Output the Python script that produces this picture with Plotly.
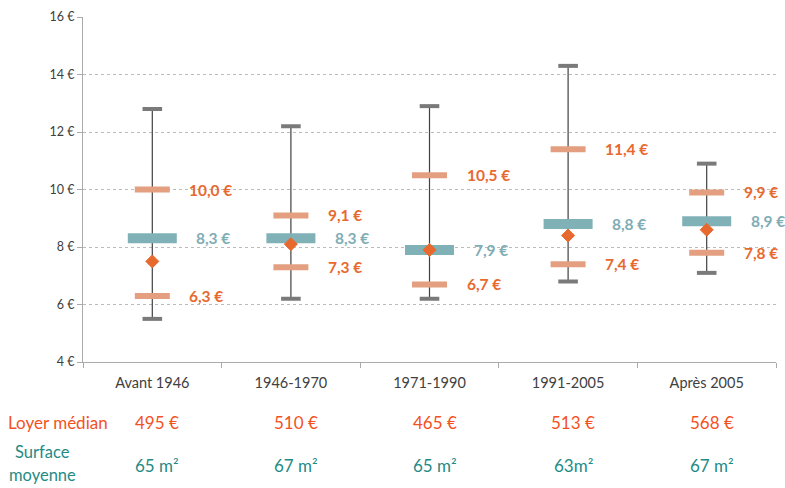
import plotly.graph_objects as go

categories = ["Avant 1946", "1946-1970", "1971-1990", "1991-2005", "Après 2005"]
mins = [5.5, 6.2, 6.2, 6.8, 7.1]
maxs = [12.8, 12.2, 12.9, 14.3, 10.9]
q1 = [6.3, 7.3, 6.7, 7.4, 7.8]
q3 = [10.0, 9.1, 10.5, 11.4, 9.9]
medians = [8.3, 8.3, 7.9, 8.8, 8.9]
means = [7.5, 8.1, 7.9, 8.4, 8.6]
loyer_median = ["495 €", "510 €", "465 €", "513 €", "568 €"]
surface_moyenne = ["65 m²", "67 m²", "65 m²", "63m²", "67 m²"]
y_ticks = [4, 6, 8, 10, 12, 14, 16]

FONT = "Lato"
ORANGE = "#E8692E"
SALMON = "#E39F80"
TEAL_BAR = "#7FB1B7"
TEAL_TXT = "#7FADB5"
RED_TXT = "#F4511E"
TEAL_DARK = "#1F8A86"

xs = list(range(len(categories)))

def fmt(v):
    return f"{v:.1f}".replace(".", ",") + " €"

fig = go.Figure()

# whiskers
wx, wy = [], []
for i in xs:
    wx += [i, i, None]
    wy += [mins[i], maxs[i], None]
fig.add_trace(go.Scatter(x=wx, y=wy, mode="lines", line=dict(color="#404040", width=1.2),
                         hoverinfo="skip", showlegend=False))

def hbar(yvals, size, width, color):
    fig.add_trace(go.Scatter(
        x=xs, y=yvals, mode="markers", showlegend=False,
        marker=dict(symbol="line-ew", size=size, color=color,
                    line=dict(color=color, width=width))))

hbar(mins, 14, 4, "#7A7A7A")
hbar(maxs, 14, 4, "#7A7A7A")
hbar(q1, 25, 6, SALMON)
hbar(q3, 25, 6, SALMON)
hbar(medians, 35, 10, TEAL_BAR)

fig.add_trace(go.Scatter(x=xs, y=means, mode="markers", showlegend=False,
                         marker=dict(symbol="diamond", size=10, color=ORANGE,
                                     line=dict(color=ORANGE, width=1))))

# value labels
for i in xs:
    for v in (q1[i], q3[i]):
        fig.add_annotation(x=i, y=v, text=fmt(v), showarrow=False, xanchor="left",
                           xshift=35, font=dict(family=FONT, size=15.5, color=ORANGE, weight="bold"))
    fig.add_annotation(x=i, y=medians[i], text=fmt(medians[i]), showarrow=False, xanchor="left",
                       xshift=42, font=dict(family=FONT, size=15.5, color=TEAL_TXT, weight="bold"))

# table below
H = 347.0
W = 693.0
def py(pix):
    return (362 - pix) / H

def px(pix):
    return (pix - 83) / W

fig.add_annotation(xref="paper", yref="paper", x=px(6), y=py(423), xanchor="left", yanchor="middle",
                   text="Loyer médian", showarrow=False,
                   font=dict(family=FONT, size=17, color=RED_TXT))
fig.add_annotation(xref="paper", yref="paper", x=px(42), y=py(453), xanchor="center", yanchor="middle",
                   text="Surface", showarrow=False,
                   font=dict(family=FONT, size=16.5, color=TEAL_DARK))
fig.add_annotation(xref="paper", yref="paper", x=px(42), y=py(476), xanchor="center", yanchor="middle",
                   text="moyenne", showarrow=False,
                   font=dict(family=FONT, size=16.5, color=TEAL_DARK))
for i in xs:
    fig.add_annotation(x=i, yref="paper", y=py(423), text=loyer_median[i], showarrow=False,
                       xanchor="center", yanchor="middle",
                       xshift=5, font=dict(family=FONT, size=17, color=RED_TXT))
    fig.add_annotation(x=i, yref="paper", y=py(466), text=surface_moyenne[i], showarrow=False,
                       xanchor="center", yanchor="middle",
                       xshift=5, font=dict(family=FONT, size=17, color=TEAL_DARK))

fig.update_layout(
    width=785, height=488,
    margin=dict(l=83, r=9, t=15, b=126),
    plot_bgcolor="white", paper_bgcolor="white",
    font=dict(family=FONT, color="#404040"),
    showlegend=False,
    xaxis=dict(range=[-0.5, 4.5], tickmode="array", tickvals=xs, ticktext=categories,
               ticks="", showgrid=False, zeroline=False, showline=True,
               linecolor="#AAAAAA", linewidth=1, ticklabelstandoff=8,
               tickfont=dict(family=FONT, size=14.5, color="#404040"),
               minor=dict(tickmode="linear", tick0=-0.5, dtick=1, ticks="outside",
                          ticklen=5, tickcolor="#AAAAAA", showgrid=False)),
    yaxis=dict(range=[4, 16], tickmode="array", tickvals=y_ticks,
               ticktext=[f"{t} €" for t in y_ticks], ticks="outside", ticklen=5,
               tickcolor="#AAAAAA", showline=True, linecolor="#AAAAAA", linewidth=1,
               showgrid=True, gridcolor="#BBBBBB", griddash="dot", gridwidth=1,
               zeroline=False, tickfont=dict(family=FONT, size=12.5, color="#404040")),
)

fig.write_html("out.html", config={"displayModeBar": False},
               post_script="document.body.style.margin='0';document.body.style.padding='0';")
